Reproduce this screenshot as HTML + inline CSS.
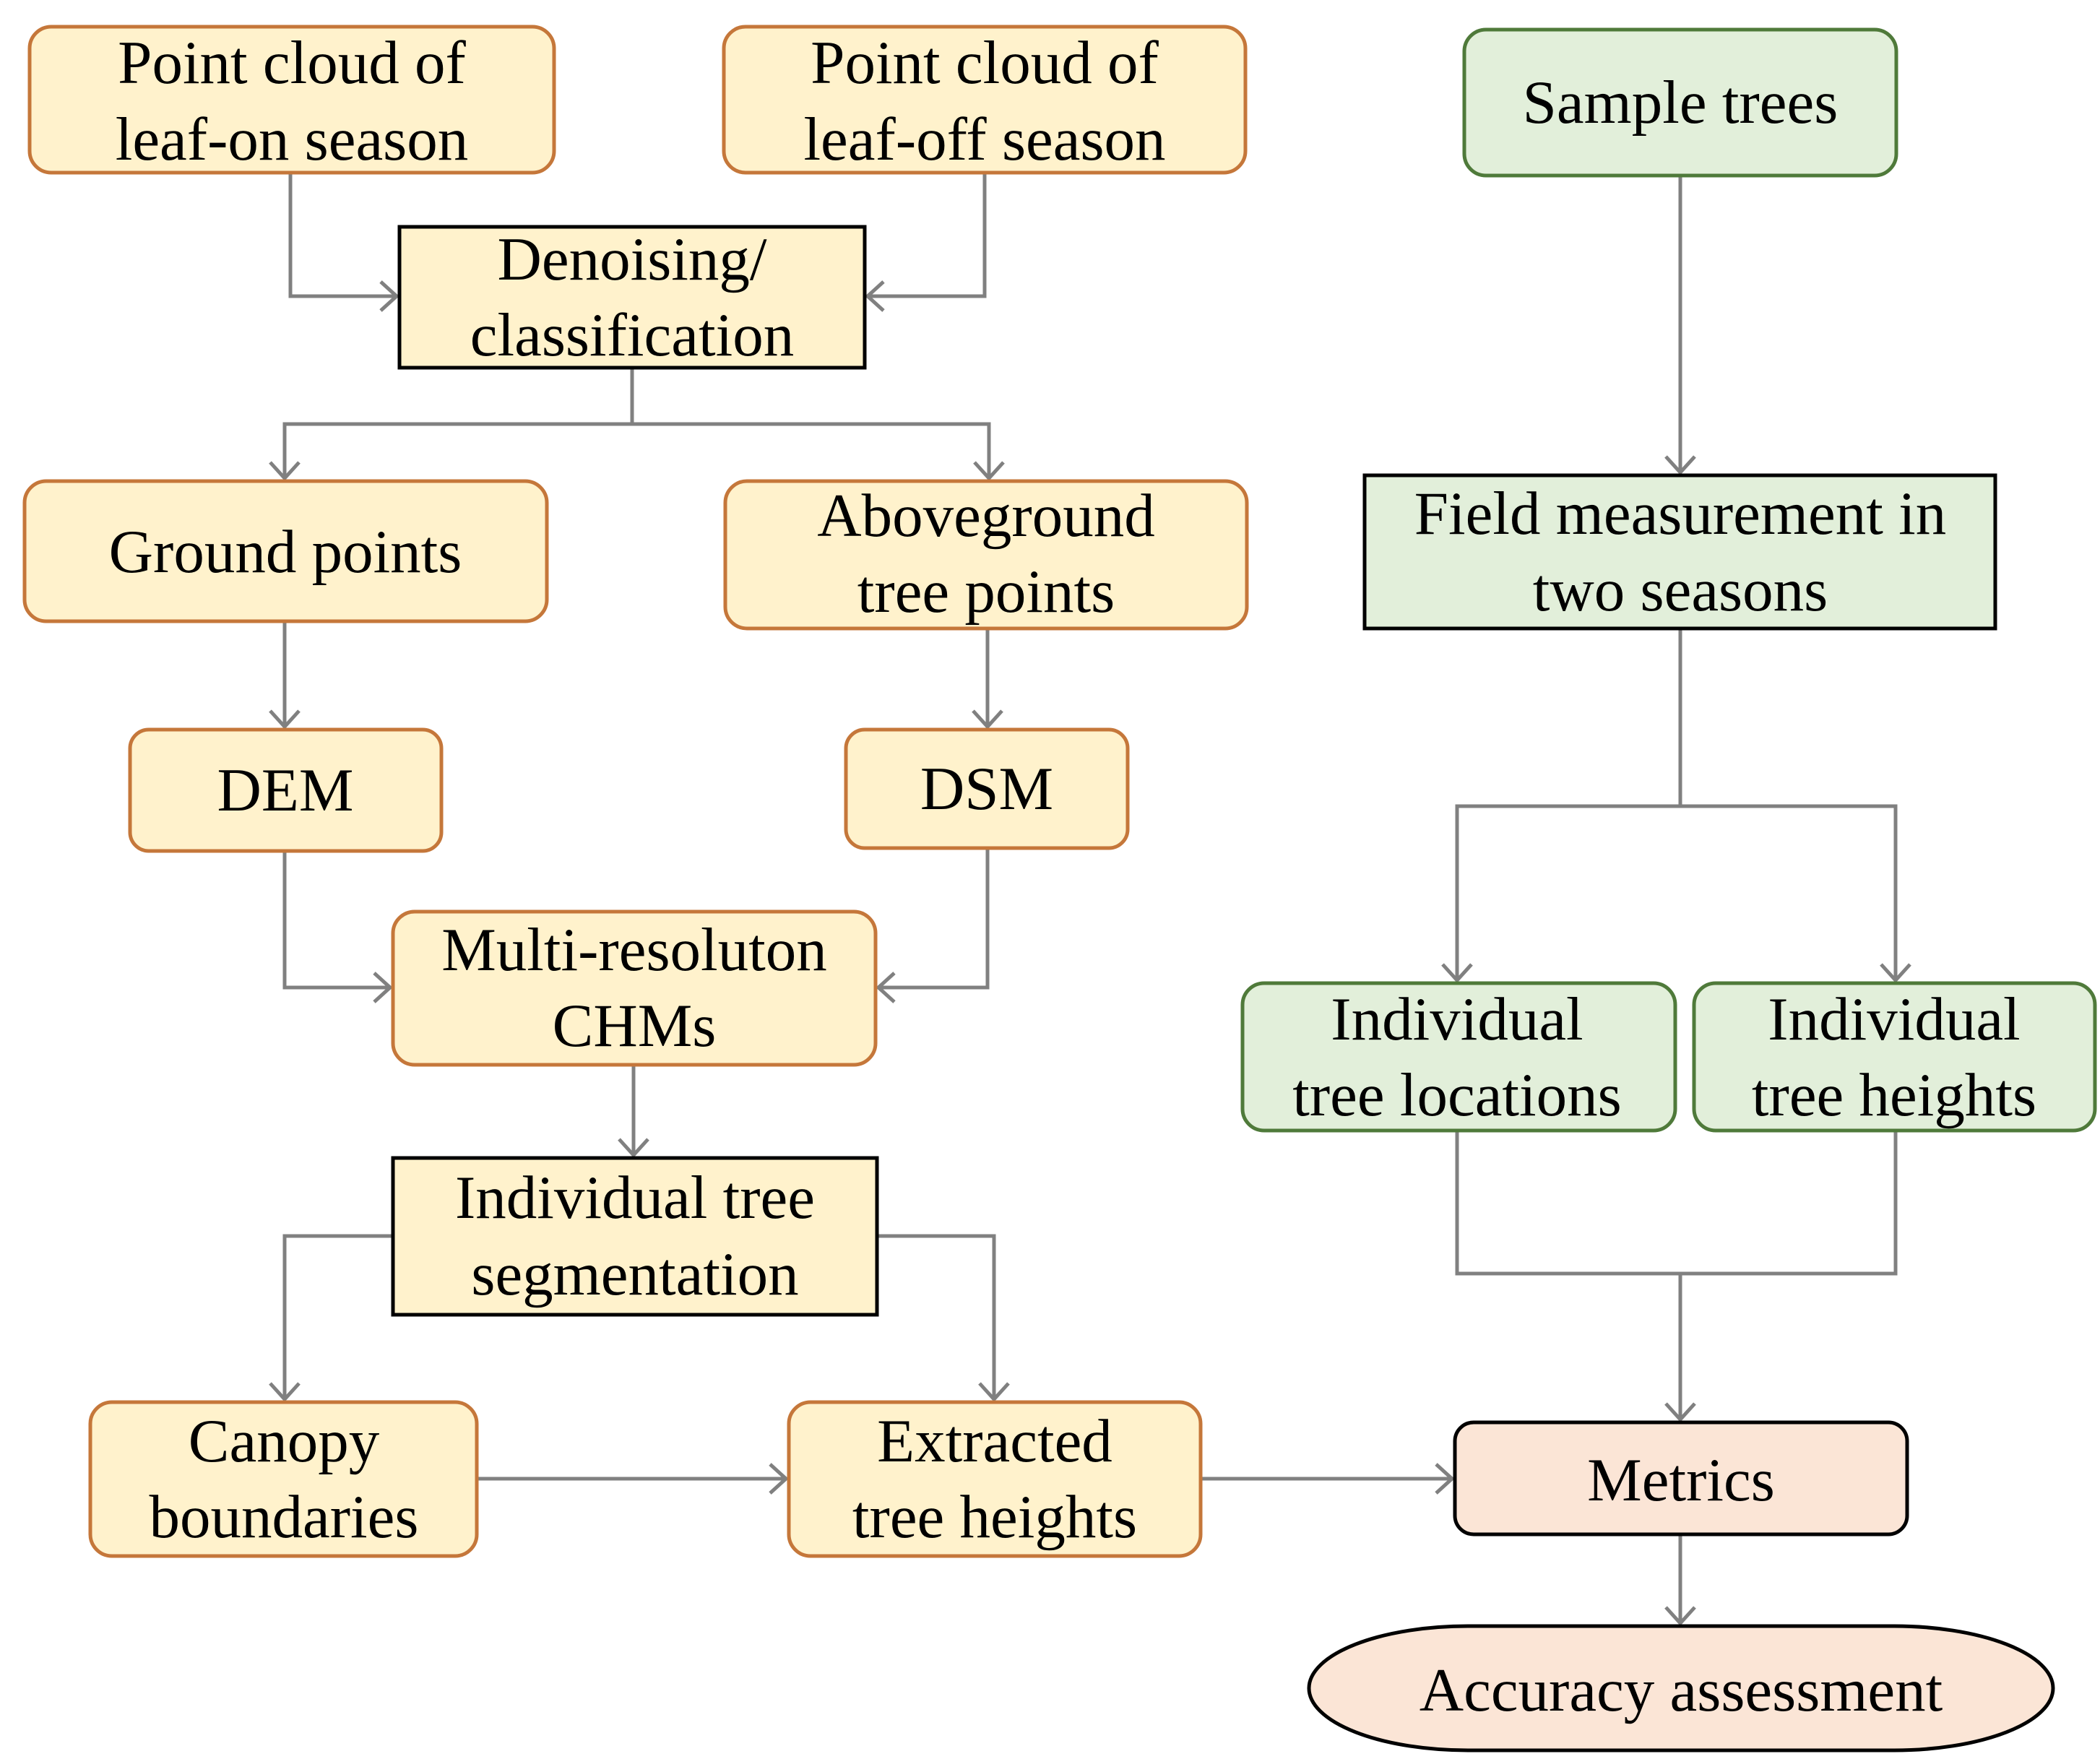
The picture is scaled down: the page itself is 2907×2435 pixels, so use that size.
<!DOCTYPE html>
<html><head><meta charset="utf-8"><style>
html,body{margin:0;padding:0;background:#fff;}
svg{display:block;}
text{font-family:"Liberation Serif",serif;font-size:85px;fill:#000;text-anchor:middle;}
</style></head><body>
<svg width="2907" height="2435" viewBox="0 0 2907 2435" xmlns="http://www.w3.org/2000/svg">
<defs>
<marker id="a" markerWidth="14" markerHeight="14" refX="12" refY="7" orient="auto" markerUnits="userSpaceOnUse" viewBox="0 0 14 14" overflow="visible">
<path d="M-10,-13 L12,7 L-10,27" fill="none" stroke="#808080" stroke-width="5"/>
</marker>
</defs>
<g fill="none" stroke="#808080" stroke-width="5">
<polyline points="402,239 402,410 549,410" marker-end="url(#a)"/>
<polyline points="1363,239 1363,410 1201,410" marker-end="url(#a)"/>
<polyline points="875,509 875,587"/>
<polyline points="875,587 394,587 394,662" marker-end="url(#a)"/>
<polyline points="875,587 1369,587 1369,662" marker-end="url(#a)"/>
<polyline points="394,860 394,1006" marker-end="url(#a)"/>
<polyline points="1367,870 1367,1006" marker-end="url(#a)"/>
<polyline points="394,1178 394,1367 540,1367" marker-end="url(#a)"/>
<polyline points="1367,1174 1367,1367 1216,1367" marker-end="url(#a)"/>
<polyline points="877,1474 877,1599" marker-end="url(#a)"/>
<polyline points="544,1711 394,1711 394,1937" marker-end="url(#a)"/>
<polyline points="1214,1711 1376,1711 1376,1937" marker-end="url(#a)"/>
<polyline points="660,2047 1088,2047" marker-end="url(#a)"/>
<polyline points="1662,2047 2010,2047" marker-end="url(#a)"/>
<polyline points="2326,243 2326,654" marker-end="url(#a)"/>
<polyline points="2326,870 2326,1116"/>
<polyline points="2326,1116 2017,1116 2017,1357" marker-end="url(#a)"/>
<polyline points="2326,1116 2624,1116 2624,1357" marker-end="url(#a)"/>
<polyline points="2017,1565 2017,1763 2624,1763 2624,1565"/>
<polyline points="2326,1763 2326,1965" marker-end="url(#a)"/>
<polyline points="2326,2124 2326,2247" marker-end="url(#a)"/>
</g>
<g stroke="#c5773a" stroke-width="5" fill="#fff2cc">
<rect x="41" y="37" width="726" height="202" rx="30"/>
<rect x="1002" y="37" width="722" height="202" rx="30"/>
<rect x="34" y="666" width="723" height="194" rx="30"/>
<rect x="1004" y="666" width="722" height="204" rx="30"/>
<rect x="180" y="1010" width="431" height="168" rx="26"/>
<rect x="1171" y="1010" width="390" height="164" rx="26"/>
<rect x="544" y="1262" width="668" height="212" rx="30"/>
<rect x="125" y="1941" width="535" height="213" rx="30"/>
<rect x="1092" y="1941" width="570" height="213" rx="30"/>
</g>
<g stroke="#000" stroke-width="5" fill="#fff2cc">
<rect x="553" y="314" width="644" height="195"/>
<rect x="544" y="1603" width="670" height="217"/>
</g>
<g stroke="#4f7a3a" stroke-width="5" fill="#e2efda">
<rect x="2027" y="41" width="598" height="202" rx="30"/>
<rect x="1720" y="1361" width="599" height="204" rx="30"/>
<rect x="2345" y="1361" width="555" height="204" rx="30"/>
</g>
<rect x="1889" y="658" width="873" height="212" fill="#e2efda" stroke="#000" stroke-width="5"/>
<rect x="2014" y="1969" width="626" height="155" rx="26" fill="#fbe5d6" stroke="#000" stroke-width="5"/>
<rect x="1812" y="2251" width="1030" height="172" rx="220" ry="86" fill="#fbe5d6" stroke="#000" stroke-width="5"/>
<text x="404" y="115">Point cloud of</text><text x="404" y="221">leaf-on season</text>
<text x="1363" y="115">Point cloud of</text><text x="1363" y="221">leaf-off season</text>
<text x="2326" y="170">Sample trees</text>
<text x="875" y="387">Denoising/</text><text x="875" y="492">classification</text>
<text x="395" y="792">Ground points</text>
<text x="1365" y="742">Aboveground</text><text x="1365" y="847">tree points</text>
<text x="2326" y="739">Field measurement in</text><text x="2326" y="845">two seasons</text>
<text x="395" y="1122">DEM</text>
<text x="1366" y="1120">DSM</text>
<text x="878" y="1343">Multi-resoluton</text><text x="878" y="1448">CHMs</text>
<text x="2017" y="1439">Individual</text><text x="2017" y="1544">tree locations</text>
<text x="2622" y="1439">Individual</text><text x="2622" y="1544">tree heights</text>
<text x="879" y="1686">Individual tree</text><text x="879" y="1792">segmentation</text>
<text x="393" y="2023">Canopy</text><text x="393" y="2128">boundaries</text>
<text x="1377" y="2023">Extracted</text><text x="1377" y="2128">tree heights</text>
<text x="2327" y="2077">Metrics</text>
<text x="2327" y="2368">Accuracy assessment</text>
</svg>
</body></html>
